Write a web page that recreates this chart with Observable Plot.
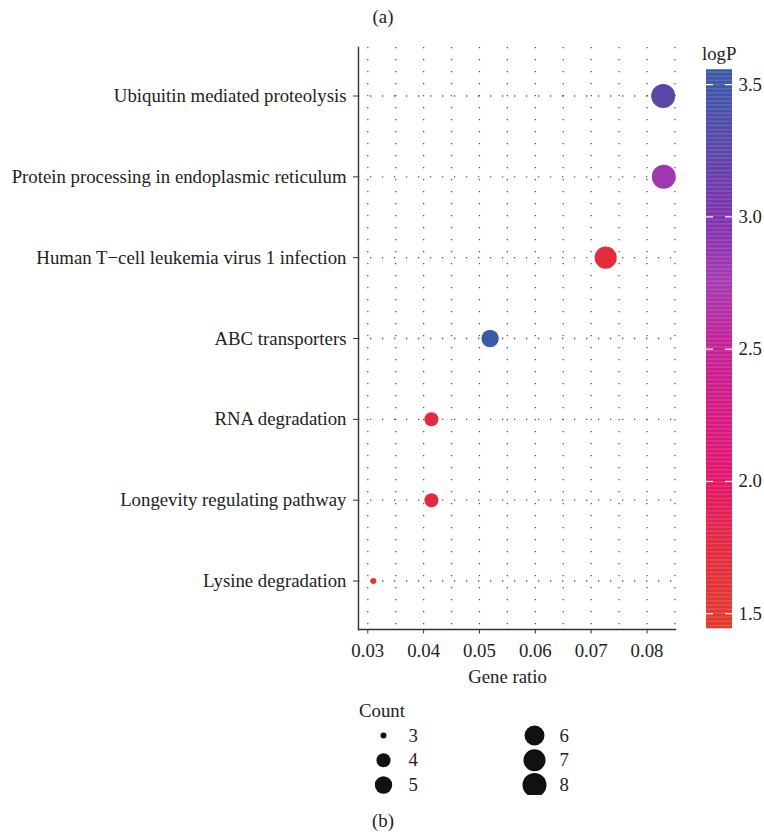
<!DOCTYPE html>
<html>
<head>
<meta charset="utf-8">
<script src="https://cdn.jsdelivr.net/npm/d3@7"></script>
<script src="https://cdn.jsdelivr.net/npm/@observablehq/plot@0.6"></script>
<style>
  body { margin: 0; background: #fff; font-family: "Liberation Serif", serif; color: #222; }
  #wrap { position: relative; width: 764px; height: 835px; overflow: hidden; }
  .abs { position: absolute; }
  .lbl { position: absolute; font-size: 18.8px; line-height: 1; white-space: nowrap; }
</style>
</head>
<body>
<div id="wrap">
  <div class="lbl" style="left:383px; top:8px; transform:translateX(-50%);">(a)</div>
  <div class="lbl" style="left:702px; top:45px;">logP</div>
  <div class="lbl" style="left:507.5px; top:668px; transform:translateX(-50%);">Gene ratio</div>
  <div class="lbl" style="left:359px; top:702px;">Count</div>
  <div class="lbl" style="left:383px; top:812px; transform:translateX(-50%);">(b)</div>
  <div id="main" class="abs" style="left:0; top:0;"></div>
  <div id="cbar" class="abs" style="left:690px; top:0;"></div>
  <div id="slegend" class="abs" style="left:340px; top:695px;"></div>
</div>
<script>
// ---- data ----
const terms = [
  "Ubiquitin mediated proteolysis",
  "Protein processing in endoplasmic reticulum",
  "Human T\u2212cell leukemia virus 1 infection",
  "ABC transporters",
  "RNA degradation",
  "Longevity regulating pathway",
  "Lysine degradation"
];
const geneRatio = [0.0829, 0.0830, 0.0726, 0.0519, 0.0414, 0.0414, 0.0310];
const counts    = [8, 8, 7, 5, 4, 4, 3];
const logP      = [3.25, 2.80, 1.70, 3.55, 1.75, 1.75, 1.45];

const xTicks    = [0.03, 0.04, 0.05, 0.06, 0.07, 0.08];
const xGrid     = [0.03, 0.035, 0.04, 0.045, 0.05, 0.055, 0.06, 0.065, 0.07, 0.075, 0.08, 0.085];
const cTicks    = [1.5, 2.0, 2.5, 3.0, 3.5];
const legendCounts = [3, 4, 5, 6, 7, 8];

// colour gradient stops (value -> colour)
const stopValues = [1.443, 1.75, 2.0, 2.25, 2.5, 2.75, 3.0, 3.25, 3.556];
const stopColors = ["#e03c2c", "#e32a40", "#e2156a", "#d41a84", "#c42098", "#a53bb0", "#7e32b0", "#5b46a8", "#3a5aa8"];

const rows = terms.map((t, i) => ({term: t, ratio: geneRatio[i], count: counts[i], logP: logP[i]}));

const colorScale = {type: "linear", domain: stopValues, range: stopColors};
const rScale = {type: "sqrt", domain: [0, 5], range: [3, 12]};
const font = "Liberation Serif";
const fs = 18.8;

// ---- main panel ----
const main = Plot.plot({
  width: 690, height: 700,
  marginLeft: 358, marginRight: 15, marginTop: 47, marginBottom: 71,
  style: {fontFamily: font, color: "#222", background: "transparent"},
  x: {domain: [0.02834, 0.0851]},
  y: {type: "point", domain: terms, padding: 0.6, round: false},
  color: colorScale,
  r: rScale,
  marks: [
    Plot.ruleX(xGrid, {stroke: "#555", strokeWidth: 1.3, strokeDasharray: "1.3 10.7"}),
    Plot.ruleY(terms, {stroke: "#555", strokeWidth: 1.3, strokeDasharray: "1.3 10.7"}),
    Plot.frame({anchor: "left", stroke: "#333", strokeWidth: 1.4}),
    Plot.frame({anchor: "bottom", stroke: "#333", strokeWidth: 1.4}),
    Plot.axisY({tickSize: 5, tickPadding: 7, fontSize: fs, label: null, stroke: "#333"}),
    Plot.axisX({ticks: xTicks, tickSize: 4.5, tickPadding: 10, fontSize: fs, label: null, tickFormat: d3.format(".2f"), stroke: "#333"}),
    Plot.dot(rows, {x: "ratio", y: "term", r: d => d.count - 3, fill: "logP", stroke: null})
  ]
});
document.getElementById("main").appendChild(main);

// ---- colour bar ----
const step = 0.005;
const cmin = stopValues[0], cmax = stopValues[stopValues.length - 1];
const bins = d3.range(cmin, cmax, step).map(v => ({y1: v, y2: Math.min(v + step + 0.001, cmax), v: v + step / 2}));
const cbar = Plot.plot({
  width: 74, height: 700,
  marginLeft: 16, marginRight: 32, marginTop: 69.3, marginBottom: 71.7,
  style: {fontFamily: font, color: "#222", background: "transparent"},
  x: {domain: [0, 1], axis: null},
  y: {domain: [cmin, cmax]},
  color: colorScale,
  marks: [
    Plot.rect(bins, {x1: 0, x2: 1, y1: "y1", y2: "y2", fill: "v"}),
    Plot.ruleY(cTicks, {x1: 0, x2: 0.27, stroke: "white", strokeWidth: 1.2}),
    Plot.ruleY(cTicks, {x1: 0.73, x2: 1, stroke: "white", strokeWidth: 1.2}),
    Plot.axisY({anchor: "right", ticks: cTicks, tickSize: 0, tickPadding: 6, fontSize: fs, label: null, tickFormat: d3.format(".1f")})
  ]
});
document.getElementById("cbar").appendChild(cbar);

// ---- size legend ----
const lrows = legendCounts.map((c, i) => ({count: c, col: i < 3 ? 0 : 1, row: i % 3}));
const sleg = Plot.plot({
  width: 250, height: 100,
  marginLeft: 43, marginRight: 56, marginTop: 40, marginBottom: 10.5,
  style: {fontFamily: font, color: "#222", background: "transparent"},
  x: {domain: [0, 1], axis: null},
  y: {domain: [0, 2], axis: null, reverse: true},
  r: rScale,
  marks: [
    Plot.dot(lrows, {x: "col", y: "row", r: d => d.count - 3, fill: "#111"}),
    Plot.text(lrows, {x: "col", y: "row", text: d => String(d.count), dx: 25, textAnchor: "start", fontSize: fs, fill: "#222"})
  ]
});
document.getElementById("slegend").appendChild(sleg);
</script>
</body>
</html>
